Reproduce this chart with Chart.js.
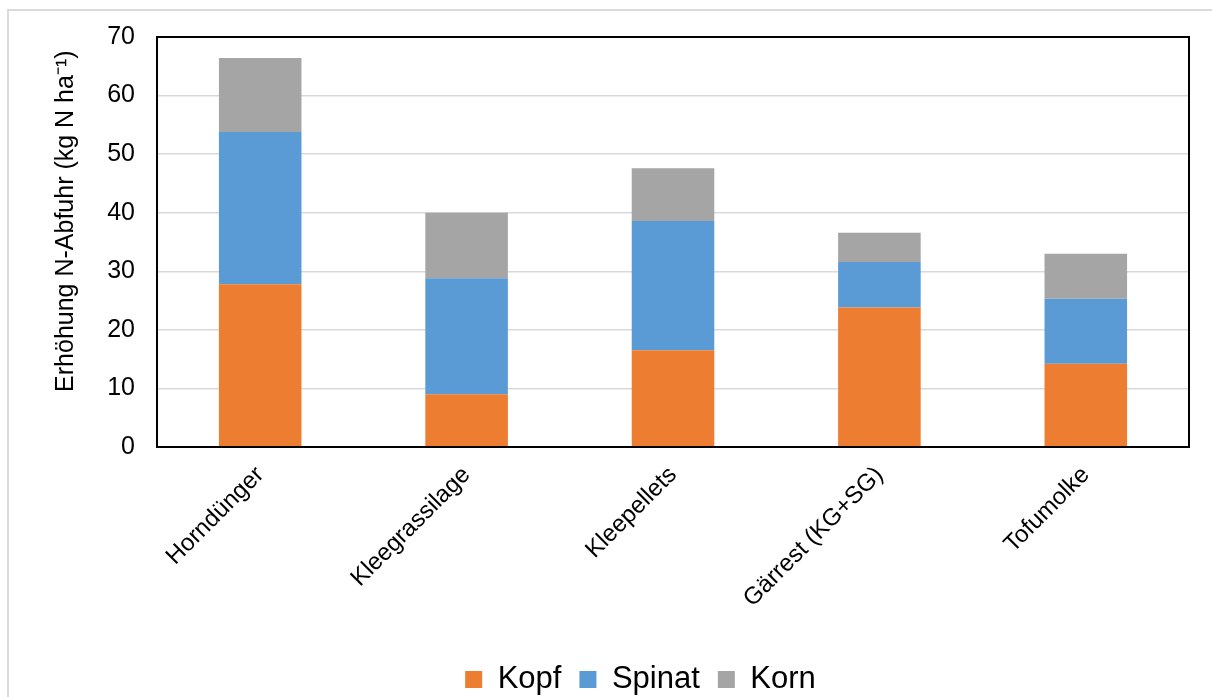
<!DOCTYPE html>
<html><head><meta charset="utf-8">
<script src="https://cdn.jsdelivr.net/npm/chart.js@4"></script>
<style>
html,body{margin:0;padding:0;background:#fff;overflow:hidden;width:1212px;height:697px}
#frame{position:absolute;left:7px;top:9px;width:1260px;height:760px;border:2px solid #dadada;pointer-events:none}
#wrap{position:absolute;left:0;top:0;width:1212px;height:697px}
</style></head><body>
<div id="frame"></div>
<div id="wrap"><canvas id="c" width="1212" height="697"></canvas></div>
<script>
const categories = ['Horndünger', 'Kleegrassilage', 'Kleepellets', 'Gärrest (KG+SG)', 'Tofumolke'];
const seriesNames = ['Kopf', 'Spinat', 'Korn'];
const kopf   = [27.8,  9.0, 16.5, 23.8, 14.2];
const spinat = [26.0, 19.8, 22.1,  7.8, 11.1];
const korn   = [12.6, 11.2,  9.0,  5.0,  7.7];
const yMin = 0, yMax = 70, yStep = 10;
const yTitle = '\u00A0\u00A0\u00A0\u00A0\u00A0\u00A0Erhöhung N-Abfuhr (kg N ha\u207B\u00B9)';

const FONT = "'Liberation Sans', Arial, sans-serif";

const plotFrame = {
  id: 'plotFrame',
  afterDraw(chart) {
    const {ctx, chartArea: a} = chart;
    ctx.save();
    ctx.strokeStyle = '#000';
    ctx.lineWidth = 2;
    ctx.strokeRect(a.left, a.top, a.right - a.left, a.bottom - a.top);
    ctx.restore();
  }
};

// the legend in the reference is centred on a wider frame: shift its box
const legendShift = {
  id: 'legendShift',
  afterLayout(chart) {
    const lg = chart.legend;
    if (lg) { lg.left += 46; lg.right += 46; }
  }
};

new Chart(document.getElementById('c'), {
  type: 'bar',
  data: {
    labels: categories,
    datasets: [
      {label: seriesNames[0], data: kopf, backgroundColor: '#ED7D31'},
      {label: seriesNames[1], data: spinat, backgroundColor: '#5B9BD5'},
      {label: seriesNames[2], data: korn, backgroundColor: '#A5A5A5'}
    ]
  },
  options: {
    responsive: false,
    devicePixelRatio: 1,
    animation: false,
    datasets: {bar: {barPercentage: 0.4, categoryPercentage: 1.0, borderWidth: 0}},
    layout: {padding: {left: 0, right: 23, top: 37, bottom: -8}},
    plugins: {
      tooltip: {enabled: false},
      legend: {
        position: 'bottom',
        labels: {
          font: {family: FONT, size: 31},
          color: '#000',
          boxWidth: 17,
          boxHeight: 17,
          padding: 18
        }
      }
    },
    scales: {
      x: {
        stacked: true,
        grid: {display: false, drawTicks: false},
        border: {display: true, color: '#000', width: 2},
        ticks: {
          font: {family: FONT, size: 24},
          color: '#000',
          minRotation: 45,
          maxRotation: 45,
          padding: 14
        },
        afterFit(scale) { scale.height = 199; }
      },
      y: {
        stacked: true,
        min: yMin,
        max: yMax,
        grid: {color: '#d9d9d9', lineWidth: 1.5, drawTicks: false},
        border: {display: true, color: '#000', width: 2},
        ticks: {
          stepSize: yStep,
          font: {family: FONT, size: 25},
          color: '#000',
          padding: 22
        },
        title: {
          display: true,
          text: yTitle,
          font: {family: FONT, size: 25},
          color: '#000',
          padding: {top: 51, bottom: 0}
        },
        afterFit(scale) { scale.width = 157; }
      }
    }
  },
  plugins: [plotFrame, legendShift]
});
</script>
</body></html>
